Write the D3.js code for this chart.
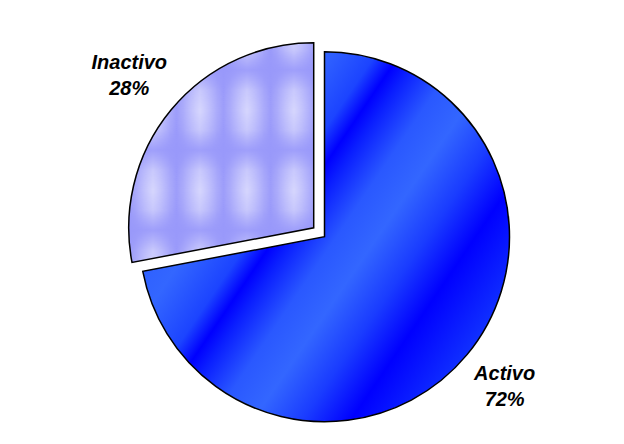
<!DOCTYPE html>
<html>
<head>
<meta charset="utf-8">
<script src="https://cdn.jsdelivr.net/npm/d3@7"></script>
<style>
  html, body { margin: 0; padding: 0; background: #fff; }
  svg { display: block; }
</style>
</head>
<body>
<script>
// ---- data ----
const categories = ["Activo", "Inactivo"];
const values = [72, 28];
const percentLabels = ["72%", "28%"];
const exploded = [false, true];

// ---- layout ----
const W = 624, H = 444;
const cx = 324.5, cy = 236.7, R = 185;
const explodeDist = 14;

const svg = d3.select("body").append("svg")
  .attr("width", W).attr("height", H);

const defs = svg.append("defs");

// Activo: diagonal band gradient (coords relative to the pie centre)
const n = [0.827, 0.562];
const g1 = defs.append("linearGradient")
  .attr("id", "gradActivo")
  .attr("gradientUnits", "userSpaceOnUse")
  .attr("x1", -R * n[0]).attr("y1", -R * n[1])
  .attr("x2", R * n[0]).attr("y2", R * n[1]);
const toOff = v => (v + R) / (2 * R);
[
  [-185, "#2655ff"],
  [-105, "#3366ff"],
  [-60, "#1c44ff"],
  [-40, "#0000ff"],
  [-25, "#0a1eff"],
  [10, "#2a58ff"],
  [44, "#3366ff"],
  [85, "#1a3cff"],
  [125, "#0000ff"],
  [185, "#1030ff"]
].forEach(([v, c]) => g1.append("stop").attr("offset", toOff(v)).attr("stop-color", c));

// Inactivo: tiled soft pattern
const tw = 47, th = 80;
const gh = defs.append("linearGradient").attr("id", "tileH")
  .attr("x1", 0).attr("y1", 0).attr("x2", 1).attr("y2", 0);
[[0, 0], [0.15, 0.08], [0.5, 0.42], [0.85, 0.08], [1, 0]].forEach(([o, a]) =>
  gh.append("stop").attr("offset", o).attr("stop-color", "#ffffff").attr("stop-opacity", a));
const gv = defs.append("linearGradient").attr("id", "tileV")
  .attr("x1", 0).attr("y1", 0).attr("x2", 0).attr("y2", 1);
[[0, 0.85], [0.25, 0.1], [0.5, 0], [0.75, 0.1], [1, 0.85]].forEach(([o, a]) =>
  gv.append("stop").attr("offset", o).attr("stop-color", "#9898fa").attr("stop-opacity", a));
const gr = defs.append("radialGradient").attr("id", "tileR")
  .attr("cx", 0.5).attr("cy", 0.5).attr("r", 0.55);
[[0, 0.3], [1, 0]].forEach(([o, a]) =>
  gr.append("stop").attr("offset", o).attr("stop-color", "#ffffff").attr("stop-opacity", a));

const pat = defs.append("pattern").attr("id", "patInactivo")
  .attr("patternUnits", "userSpaceOnUse")
  .attr("x", 35.5).attr("y", 70)
  .attr("width", tw).attr("height", th);
pat.append("rect").attr("width", tw).attr("height", th).attr("fill", "#9a9afa");
pat.append("rect").attr("width", tw).attr("height", th).attr("fill", "url(#tileH)");
pat.append("rect").attr("width", tw).attr("height", th).attr("fill", "url(#tileR)");
pat.append("rect").attr("width", tw).attr("height", th).attr("fill", "url(#tileV)");

const fills = ["url(#gradActivo)", "url(#patInactivo)"];

// ---- pie ----
const pie = d3.pie().sort(null).value(d => d.value);
const arcs = pie(categories.map((c, i) => ({ cat: c, value: values[i], pct: percentLabels[i], ex: exploded[i], i })));
const arc = d3.arc().innerRadius(0).outerRadius(R);

arcs.forEach(a => {
  const mid = (a.startAngle + a.endAngle) / 2;
  const off = a.data.ex ? explodeDist : 0;
  a.ox = cx + Math.sin(mid) * off;
  a.oy = cy - Math.cos(mid) * off;
  a.mid = mid;
});

arcs.forEach(a => {
  const g = svg.append("g").attr("transform", `translate(${a.ox},${a.oy})`);
  if (a.data.i === 1) {
    // keep the pattern anchored to page coordinates
    d3.select("#patInactivo").attr("patternTransform", `translate(${-a.ox},${-a.oy})`);
  }
  g.append("path")
    .attr("d", arc(a))
    .attr("fill", fills[a.data.i])
    .attr("stroke", "#000")
    .attr("stroke-width", 1.5)
    .attr("stroke-linejoin", "miter");
});

// ---- labels ----
const capH = 14, lineGap = 26, pad = 12.5;
arcs.forEach(a => {
  const t = svg.append("text")
    .attr("font-family", "'Liberation Sans', Arial, sans-serif")
    .attr("font-weight", "bold")
    .attr("font-style", "italic")
    .attr("font-size", 20)
    .attr("fill", "#000")
    .attr("text-anchor", "middle");
  const l1 = t.append("tspan").text(a.data.cat);
  const l2 = t.append("tspan").text(a.data.pct);
  const w = Math.max(l1.node().getComputedTextLength(), l2.node().getComputedTextLength());
  const h = capH + lineGap;
  const s = Math.sin(a.mid), c = -Math.cos(a.mid);
  const dist = R + pad + Math.abs(s) * w / 2 + Math.abs(c) * h / 2;
  const lx = a.ox + s * dist, ly = a.oy + c * dist;
  const b1 = ly - h / 2 + capH;
  l1.attr("x", lx).attr("y", b1);
  l2.attr("x", lx).attr("y", b1 + lineGap);
});
</script>
</body>
</html>
